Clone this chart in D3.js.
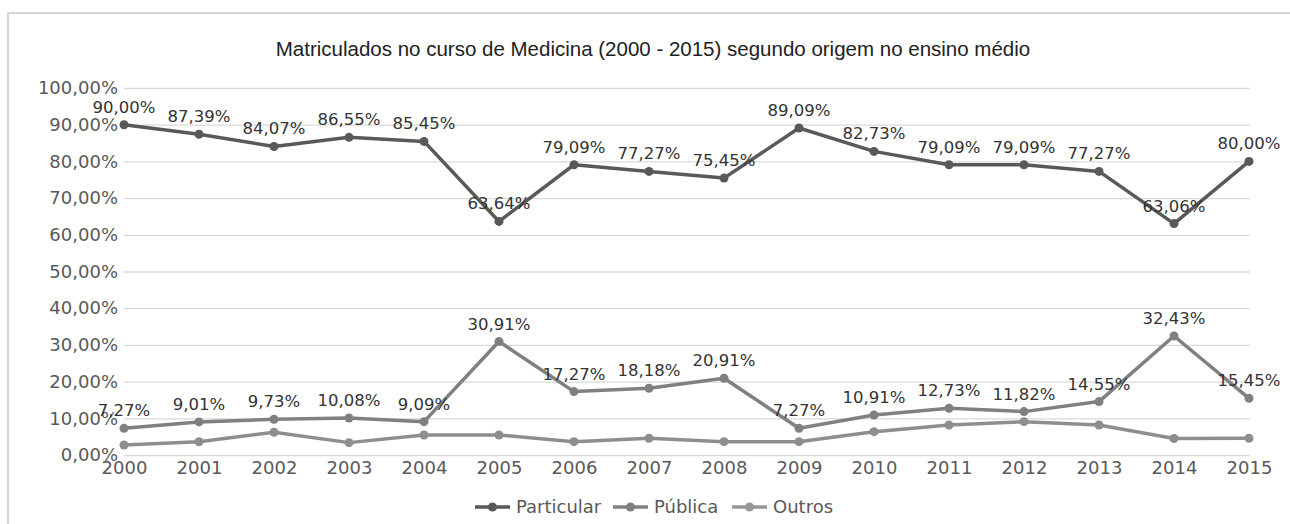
<!DOCTYPE html>
<html>
<head>
<meta charset="utf-8">
<script src="https://cdn.jsdelivr.net/npm/d3@7"></script>
<style>
  body { margin: 0; background: #fff; }
  svg { display: block; }
</style>
</head>
<body>
<svg></svg>
<script>
var width = 1290;
var height = 524;

var years = ['2000', '2001', '2002', '2003', '2004', '2005', '2006', '2007',
             '2008', '2009', '2010', '2011', '2012', '2013', '2014', '2015'];
var particular = [90.00, 87.39, 84.07, 86.55, 85.45, 63.64, 79.09, 77.27,
                  75.45, 89.09, 82.73, 79.09, 79.09, 77.27, 63.06, 80.00];
var publica = [7.27, 9.01, 9.73, 10.08, 9.09, 30.91, 17.27, 18.18,
               20.91, 7.27, 10.91, 12.73, 11.82, 14.55, 32.43, 15.45];
var outros = [2.73, 3.60, 6.20, 3.37, 5.46, 5.45, 3.64, 4.55,
              3.64, 3.64, 6.36, 8.18, 9.09, 8.18, 4.51, 4.55];
var yTicks = [0, 10, 20, 30, 40, 50, 60, 70, 80, 90, 100];

var seriesNames = ['Particular', 'Pública', 'Outros'];
var seriesColors = ['#595959', '#808080', '#8e8e8e'];
var legendColors = ['#595959', '#7f7f7f', '#979797'];

var fmt = v => d3.format('.2f')(v).replace('.', ',') + '%';

var svg = d3.select('svg')
    .attr('width', width)
    .attr('height', height);

// chart frame
svg.append('rect')
    .attr('x', 8)
    .attr('y', 13)
    .attr('width', 1300)
    .attr('height', 600)
    .attr('fill', 'none')
    .attr('stroke', '#d4d4d4')
    .attr('stroke-width', 2);

var xScale = d3.scalePoint()
    .domain(years)
    .range([124, 1249]);

var yScale = d3.scaleLinear()
    .domain([0, 100])
    .range([455, 88]);

var yAxis = d3.axisLeft(yScale)
    .tickValues(yTicks)
    .tickSize(-(1250 - 124))
    .tickPadding(6)
    .tickFormat(fmt);

var gy = svg.append('g')
    .attr('transform', 'translate(124,0)')
    .call(yAxis);
gy.select('.domain').remove();
gy.selectAll('.tick line').attr('stroke', '#d9d9d9').attr('stroke-width', 1.3);
gy.selectAll('.tick text')
    .attr('fill', '#595959')
    .style('font-family', 'DejaVu Sans')
    .style('font-size', '18px');

var xAxis = d3.axisBottom(xScale)
    .tickSize(0)
    .tickPadding(8);

var gx = svg.append('g')
    .attr('transform', 'translate(0,455)')
    .call(xAxis);
gx.select('.domain').remove();
gx.selectAll('.tick text')
    .attr('fill', '#595959')
    .attr('dy', '0.6em')
    .style('font-family', 'DejaVu Sans')
    .style('font-size', '18px');

// title
svg.append('text')
    .attr('x', 653)
    .attr('y', 56)
    .style('text-anchor', 'middle')
    .style('font-family', 'Liberation Sans')
    .style('font-size', '20.5px')
    .attr('fill', '#222')
    .text('Matriculados no curso de Medicina (2000 - 2015) segundo origem no ensino médio');

var allSeries = [particular, publica, outros];
var line = d3.line()
    .x((d, i) => xScale(years[i]))
    .y(d => yScale(d));

// draw bottom series first
[2, 1, 0].forEach(k => {
  var g = svg.append('g');
  g.append('path')
      .datum(allSeries[k])
      .attr('d', line)
      .attr('fill', 'none')
      .attr('stroke', seriesColors[k])
      .attr('stroke-width', 3.5)
      .attr('stroke-linejoin', 'round');
  g.selectAll('circle')
    .data(allSeries[k])
    .enter()
    .append('circle')
      .attr('cx', (d, i) => xScale(years[i]))
      .attr('cy', d => yScale(d))
      .attr('r', 4.5)
      .attr('fill', seriesColors[k]);
});

// data labels for Particular and Pública
[0, 1].forEach(k => {
  svg.append('g')
    .selectAll('text')
    .data(allSeries[k])
    .enter()
    .append('text')
      .attr('x', (d, i) => xScale(years[i]))
      .attr('y', d => yScale(d) - 12)
      .style('text-anchor', 'middle')
      .style('font-family', 'DejaVu Sans')
      .style('font-size', '16.5px')
      .attr('fill', '#333')
      .text(d => fmt(d));
});

// legend
var legendX = [475, 613, 732];
var legend = svg.append('g')
    .selectAll('g')
    .data(seriesNames)
    .enter()
    .append('g')
      .attr('transform', (d, i) => `translate(${legendX[i]},507)`);
legend.append('line')
    .attr('x1', 0).attr('x2', 35)
    .attr('stroke', (d, i) => legendColors[i])
    .attr('stroke-width', 3.5);
legend.append('circle')
    .attr('cx', 17.5)
    .attr('r', 4.5)
    .attr('fill', (d, i) => legendColors[i]);
legend.append('text')
    .attr('x', 41)
    .attr('dy', '0.35em')
    .attr('fill', '#595959')
    .style('font-family', 'DejaVu Sans')
    .style('font-size', '18px')
    .text(d => d);
</script>
</body>
</html>
